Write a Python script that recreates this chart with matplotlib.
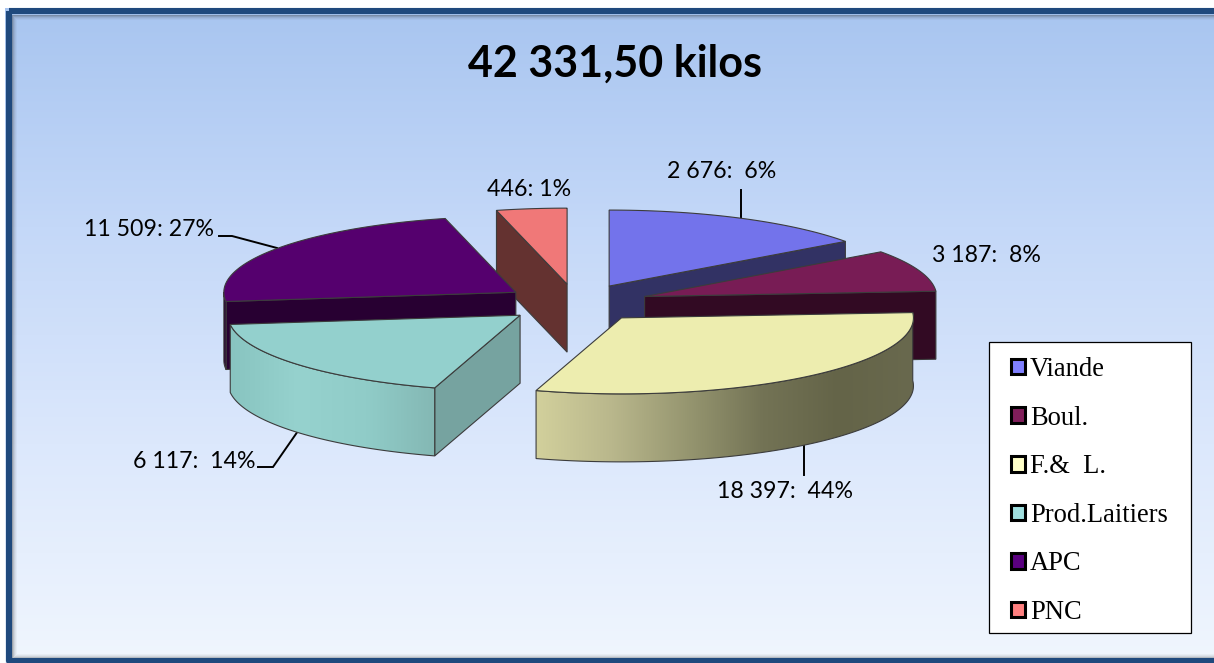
import numpy as np
import matplotlib
matplotlib.use("Agg")
import matplotlib.pyplot as plt
from matplotlib.colors import LinearSegmentedColormap, to_rgb
from matplotlib.patches import Polygon, Patch, Rectangle

# ---- data -------------------------------------------------------------
title = "42 331,50 kilos"
categories = ["Viande", "Boul.", "F.&  L.", "Prod.Laitiers", "APC", "PNC"]
slice_labels = ["2 676:  6%", "3 187:  8%", "18 397:  44%", "6 117:  14%", "11 509: 27%", "446: 1%"]
# the drawn angular size of every slice (degrees)
drawn_degrees = [54, 32, 111, 66, 83, 14]

# ---- styles -----------------------------------------------------------
top_colors = ["#7373EB", "#781C55", "#EDEDAF", "#93D0CD", "#55006E", "#F07878"]
cut_colors = ["#323264", "#320A23", "#646448", "#76A3A0", "#280032", "#643230"]
legend_colors = ["#8080FF", "#801E5A", "#FFFFC8", "#A0E0E0", "#5A0080", "#FF8080"]
side_stops = {
    2: ["#D2D09C", "#B9B78C", "#969670", "#737355", "#646448", "#69694E"],
    3: ["#88C4C0", "#96D2CE", "#90CCC8", "#84B8B4"],
    4: ["#280032", "#280032"],
}
label_pos = [(722, 171), (986, 255), (785, 492), (194, 461), (149, 230), (529, 189)]
leaders = [[(741, 218), (741, 190)], None, [(804, 445), (804, 475)],
           [(298, 431), (273, 467), (258, 467)],
           [(277, 248), (232, 236), (219, 236)], None]

W, H = 1214, 663
CX, CY = 576, 303      # pie centre
RX, RY = 292, 76       # top ellipse radii
EXPLODE = 73           # explosion distance
DEPTH = 68
EDGE = "#3c3c3c"
TEXT_FONT = "Lato"

fig = plt.figure(figsize=(W / 100, H / 100), dpi=100, facecolor="white")
ax = fig.add_axes([0, 0, 1, 1])
ax.set_xlim(0, W)
ax.set_ylim(H, 0)
ax.axis("off")

# ---- background and frame ---------------------------------------------
bg = LinearSegmentedColormap.from_list("bg", ["#A8C5F0", "#C4D8F8", "#DCE8FC", "#F0F6FE"])
ax.imshow(np.linspace(0, 1, 256)[:, None], cmap=bg, extent=(5, W + 2, 663, 8),
          aspect="auto", zorder=0, interpolation="bilinear")
for i, a in enumerate([0.38, 0.26, 0.16, 0.09, 0.04]):
    ax.add_patch(Rectangle((12 + i, 14.5 + i), W + 20, 643 - 2 * i, fill=False,
                           edgecolor="#303030", alpha=a, lw=0.72, zorder=1))
ax.add_patch(Rectangle((8.5, 11), W + 20, 650, fill=False, edgecolor="#1F497D",
                       lw=4.4, zorder=1.5, joinstyle="round"))


def point(apex, deg):
    t = np.radians(deg)
    return apex[0] + RX * np.sin(t), apex[1] - RY * np.cos(t)


def gradient_poly(verts, stops, zorder):
    verts = np.asarray(verts)
    cmap = LinearSegmentedColormap.from_list("g", [to_rgb(s) for s in stops])
    x0, x1 = verts[:, 0].min(), verts[:, 0].max()
    y0, y1 = verts[:, 1].min(), verts[:, 1].max()
    im = ax.imshow(np.linspace(0, 1, 256)[None, :], cmap=cmap, extent=(x0, x1, y1, y0),
                   aspect="auto", zorder=zorder, interpolation="bilinear")
    clip = Polygon(verts, closed=True, transform=ax.transData, facecolor="none",
                   edgecolor=EDGE, lw=0.8, zorder=zorder + 0.01)
    ax.add_patch(clip)
    im.set_clip_path(clip)


# ---- leaders sit behind the pie ---------------------------------------
for pts in leaders:
    if pts:
        xs, ys = zip(*pts)
        ax.plot(xs, ys, color="black", lw=1.4, zorder=2, solid_joinstyle="miter")

# ---- slices -----------------------------------------------------------
edges = np.concatenate([[0], np.cumsum(drawn_degrees)])
draw_order = [5, 0, 1, 2, 4, 3]
z = 3.0
for i in draw_order:
    a, b = edges[i], edges[i + 1]
    mid = np.radians((a + b) / 2)
    apex = (CX + EXPLODE * np.sin(mid), CY - EXPLODE * RY / RX * np.cos(mid))
    angles = np.linspace(a, b, 120)
    arc = np.array([point(apex, d) for d in angles])

    # flat cut faces
    if np.sin(np.radians(a)) < 0:  # starting face looks to the viewer
        p = point(apex, a)
        face = [apex, p, (p[0], p[1] + DEPTH), (apex[0], apex[1] + DEPTH)]
        ax.add_patch(Polygon(face, closed=True, facecolor=cut_colors[i], edgecolor=EDGE, lw=0.8, zorder=z))
        z += 0.1
    if np.sin(np.radians(b)) > 0:  # ending face looks to the viewer
        p = point(apex, b)
        face = [apex, p, (p[0], p[1] + DEPTH), (apex[0], apex[1] + DEPTH)]
        ax.add_patch(Polygon(face, closed=True, facecolor=cut_colors[i], edgecolor=EDGE, lw=0.8, zorder=z))
        z += 0.1
    # outer rounded side (front half only)
    lo, hi = max(a, 90), min(b, 270)
    if hi > lo:
        if i == 2:
            lo = a
        front = np.array([point(apex, d) for d in np.linspace(lo, hi, 120)])
        side = np.vstack([front, front[::-1] + [0, DEPTH]])
        gradient_poly(side, side_stops[i], z)
        z += 0.1
    # top
    top = np.vstack([[apex], arc])
    ax.add_patch(Polygon(top, closed=True, facecolor=top_colors[i], edgecolor=EDGE, lw=0.8, zorder=z))
    z += 0.1

# ---- texts ------------------------------------------------------------
ax.text(614.5, 64, title, ha="center", va="center", fontsize=31, fontweight="bold",
        family=TEXT_FONT, color="black", zorder=20)
for text, (x, y) in zip(slice_labels, label_pos):
    ax.text(x, y, text, ha="center", va="center", fontsize=16.7, family=TEXT_FONT,
            color="black", zorder=20)

# ---- legend -----------------------------------------------------------
ax.add_patch(Rectangle((989, 342), 202, 291, facecolor="white", edgecolor="black",
                       lw=0.9, zorder=29))
handles = [Patch(facecolor=c, edgecolor="black", lw=2.2, label=n)
           for c, n in zip(legend_colors, categories)]
leg = ax.legend(handles=handles, loc="upper left", bbox_to_anchor=(1011, 357),
                bbox_transform=ax.transData, frameon=False,
                prop={"family": "Liberation Serif", "size": 19.1},
                borderpad=0, borderaxespad=0, labelspacing=0.89,
                handlelength=0.52, handleheight=0.52, handletextpad=0.2)
leg.set_zorder(30)

fig.savefig("out.png", dpi=100)
